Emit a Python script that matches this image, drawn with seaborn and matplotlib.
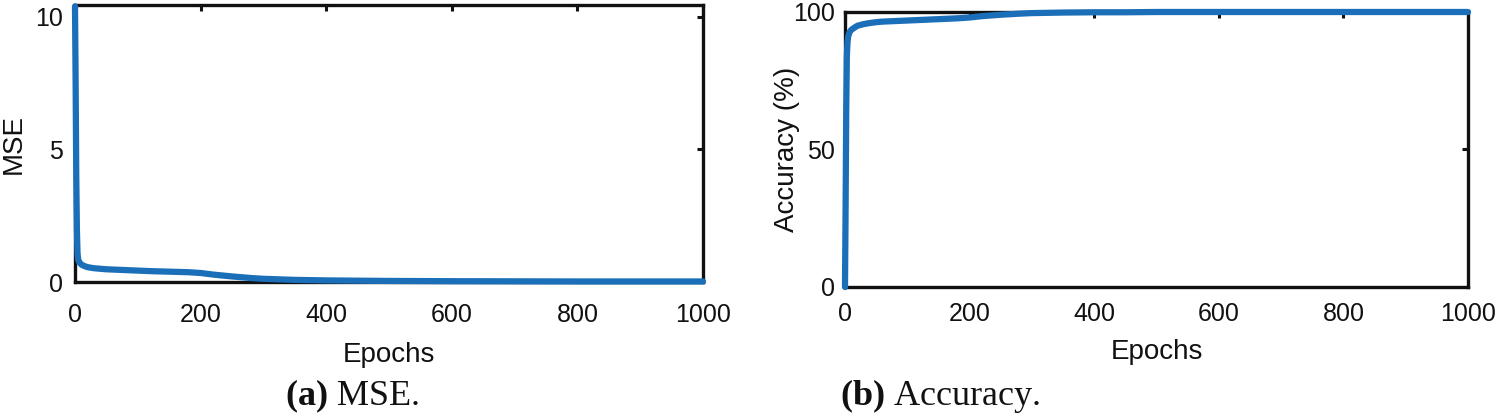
import matplotlib
matplotlib.use("Agg")
import matplotlib.pyplot as plt
import seaborn as sns
import pandas as pd

# ---- data ----
mse_epochs = [0, 1, 2, 3, 4, 5, 7, 10, 15, 20, 30, 40, 50, 60, 80, 100, 120,
              150, 180, 200, 220, 250, 280, 300, 350, 400, 450, 500, 600, 700,
              800, 900, 1000]
mse_values = [10.4, 7.5, 4.0, 2.0, 1.1, 0.85, 0.74, 0.66, 0.6, 0.56, 0.52, 0.5,
              0.48, 0.47, 0.45, 0.43, 0.41, 0.39, 0.37, 0.34, 0.28, 0.21, 0.15,
              0.12, 0.08, 0.06, 0.05, 0.04, 0.03, 0.025, 0.02, 0.02, 0.02]

acc_epochs = [0, 1, 2, 3, 4, 5, 7, 10, 15, 20, 30, 40, 50, 60, 80, 100, 120,
              150, 180, 200, 220, 250, 280, 300, 350, 400, 450, 500, 600, 700,
              800, 900, 1000]
acc_values = [0.0, 30.0, 65.0, 84.0, 89.0, 91.0, 92.5, 93.5, 94.3, 95.0, 95.6,
              96.0, 96.3, 96.5, 96.7, 96.9, 97.1, 97.4, 97.7, 98.0, 98.5, 99.0,
              99.4, 99.6, 99.8, 99.9, 99.9, 100.0, 100.0, 100.0, 100.0, 100.0,
              100.0]

x_ticks = [0, 200, 400, 600, 800, 1000]
mse_ticks = [0, 5, 10]
acc_ticks = [0, 50, 100]
x_label = "Epochs"
mse_label = "MSE"
acc_label = "Accuracy (%)"
caption_a = ("(a)", " MSE.")
caption_b = ("(b)", " Accuracy.")

# ---- style ----
sns.set_theme(style="white")
plt.rcParams["font.family"] = ["Liberation Sans", "DejaVu Sans"]
plt.rcParams["mathtext.fontset"] = "custom"
plt.rcParams["mathtext.rm"] = "Liberation Serif"
plt.rcParams["mathtext.bf"] = "Liberation Serif:bold"

LINE = "#1A6FB8"
W, H = 1500, 418
fig = plt.figure(figsize=(W / 100, H / 100), dpi=100)


def px_axes(x0, y0, x1, y1):
    return fig.add_axes([x0 / W, 1 - y1 / H, (x1 - x0) / W, (y1 - y0) / H])


axA = px_axes(75, 5, 703, 282)
axB = px_axes(845, 12, 1468, 287)

dfA = pd.DataFrame({"Epochs": mse_epochs, "MSE": mse_values})
dfB = pd.DataFrame({"Epochs": acc_epochs, "Acc": acc_values})
sns.lineplot(data=dfA, x="Epochs", y="MSE", ax=axA, color=LINE, linewidth=4.5,
             zorder=5, clip_on=False)
sns.lineplot(data=dfB, x="Epochs", y="Acc", ax=axB, color=LINE, linewidth=4.5,
             zorder=5, clip_on=False)


def style(ax, yticks, ylim, ylabel, tick_fs, label_fs, xpad, ypad, xlab_y, ylab_x):
    ax.set_xlim(0, 1000)
    ax.set_ylim(*ylim)
    ax.set_xticks(x_ticks)
    ax.set_yticks(yticks)
    ax.set_xticklabels([str(t) for t in x_ticks])
    ax.set_yticklabels([str(t) for t in yticks])
    for s in ax.spines.values():
        s.set_visible(True)
        s.set_color("#111111")
        s.set_linewidth(2.4)
    ax.tick_params(axis="both", which="both", direction="in", length=4, width=2.2,
                   color="#111111", top=True, right=True, labelsize=tick_fs,
                   labelcolor="#111111")
    ax.tick_params(axis="x", pad=xpad)
    ax.tick_params(axis="y", pad=ypad)
    ax.set_xlabel(x_label, fontsize=label_fs, color="#111111")
    ax.set_ylabel(ylabel, fontsize=label_fs, color="#111111")
    ax.xaxis.set_label_coords(0.5, xlab_y)
    ax.yaxis.set_label_coords(ylab_x, 0.5)
    ax.grid(False)


style(axA, mse_ticks, (0, 10.45), mse_label, 18, 20, 15, 8.5, -0.215, -0.077)
style(axB, acc_ticks, (0, 100), acc_label, 18, 20, 11, 7, -0.19, -0.072)

cap_fs = 26
fig.text(352 / W, 1 - 396 / H, r"$\mathbf{" + caption_a[0] + r"}$" + caption_a[1],
         ha="center", va="center", fontsize=cap_fs, family="Liberation Serif",
         color="#111111")
fig.text(940 / W, 1 - 396 / H, r"$\mathbf{" + caption_b[0] + r"}$" + caption_b[1],
         ha="center", va="center", fontsize=cap_fs, family="Liberation Serif",
         color="#111111")

fig.savefig("out.png", dpi=100, facecolor="white")
